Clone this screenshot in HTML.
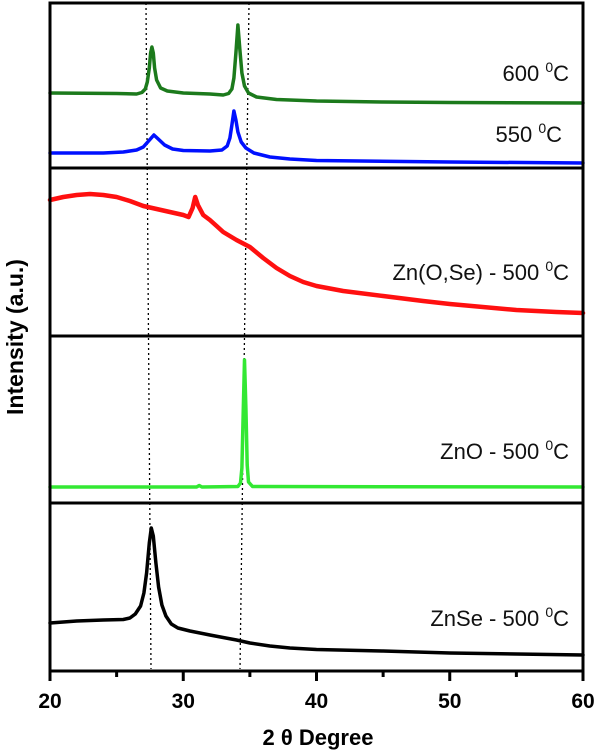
<!DOCTYPE html>
<html><head><meta charset="utf-8"><style>
html,body{margin:0;padding:0;background:#fff;}
svg{display:block;font-family:"Liberation Sans",Arial,sans-serif;}
</style></head><body>
<svg id="chart" width="596" height="755" viewBox="0 0 596 755"></svg>
<script>
const xTicks = [20, 30, 40, 50, 60];
const minorTicks = [25, 35, 45, 55];
const s600 = [[20,75],[25,74.5],[26.5,74],[26.9,75.5],[27.15,79],[27.3,86],[27.45,100],[27.55,115],[27.65,121],[27.75,115],[27.85,100],[28.0,88],[28.3,80],[28.8,77],[30,75],[32,74],[33,73],[33.4,74.5],[33.65,79],[33.8,90],[33.95,115],[34.1,143],[34.25,118],[34.4,95],[34.6,82],[34.9,75],[35.5,71],[37,68.5],[40,67],[45,66],[50,65.5],[60,65]];
const s550 = [[20,15],[24,15],[25.5,16],[26.5,18],[27.0,21],[27.4,27],[27.8,33],[28.2,28],[28.6,23],[29.2,19],[30,17.5],[32,17],[32.9,18],[33.3,22],[33.5,30],[33.65,43],[33.8,57],[33.95,48],[34.1,36],[34.35,26],[34.7,20],[35.3,15],[36.5,11],[38,9],[40,7.5],[50,6],[60,5]];
const sZnOSe = [[20,136],[21,139],[22,141],[23,142],[24,141],[25,139],[26,135],[27,130],[28,127],[29,124],[30,121],[30.4,119],[30.7,128],[30.9,139],[31.1,131],[31.5,121],[32,116],[32.5,110],[33,104],[34,96],[35,89],[36,78],[37,68],[38,60],[39,54],[40,50],[42,45],[45,40],[48,35],[50,32],[55,26],[58,24],[60,23]];
const sZnO = [[20,16],[31,16],[31.2,17.5],[31.4,16],[34.1,16.5],[34.3,20],[34.4,35],[34.5,90],[34.6,143],[34.7,95],[34.8,38],[34.9,21],[35.2,16.5],[60,16]];
const sZnSe = [[20,48],[22,50],[24,51],[25.5,51.5],[26,53],[26.4,57],[26.8,65],[27.05,78],[27.25,98],[27.45,128],[27.6,143],[27.75,135],[27.95,108],[28.15,84],[28.4,66],[28.7,55],[29.1,47],[29.6,43],[30.5,40],[32,36],[34,31],[35,28],[36.5,25],[38,23],[40,21.5],[45,20],[50,18],[55,17],[60,16]];

const NS="http://www.w3.org/2000/svg";
const svg=document.getElementById('chart');
const X0=50,X1=583;
const xs=v=>X0+(v-20)/40*(X1-X0);
const panelBottoms=[168,336,503,671];
function ys(panel,v){return panelBottoms[panel]-v;}
function mk(tag,attrs){const e=document.createElementNS(NS,tag);for(const k in attrs)e.setAttribute(k,attrs[k]);svg.appendChild(e);return e;}

let d1=mk('line',{x1:146,y1:3,x2:151,y2:669,stroke:'#000','stroke-width':1.3,'stroke-dasharray':'2,3'});


let d2=mk('line',{x1:249,y1:3,x2:240,y2:669,stroke:'#000','stroke-width':1.3,'stroke-dasharray':'2,3'});



function series(data,panel,color,name,w){
  const d=data.map((p,i)=>(i?'L':'M')+xs(p[0]).toFixed(1)+','+ys(panel,p[1]).toFixed(1)).join(' ');
  const p=mk('path',{d:d,fill:'none',stroke:color,'stroke-width':w||3.5,'stroke-linejoin':'round','stroke-linecap':'round'});
  
  
}
series(s600,0,'#1c7a1c','series-600c');
series(s550,0,'#0010ff','series-550c');
series(sZnOSe,1,'#ff1010','series-zn-o-se-500c',4.5);
series(sZnO,2,'#33e833','series-zno-500c');
series(sZnSe,3,'#000','series-znse-500c');

let fr=mk('rect',{x:X0,y:3,width:X1-X0,height:671-3,fill:'none',stroke:'#000','stroke-width':3});


[168,336,503].forEach(y=>{
  const l=mk('line',{x1:X0,y1:y,x2:X1,y2:y,stroke:'#000','stroke-width':3});
  
  
});
xTicks.forEach(v=>{
  const t=mk('line',{x1:xs(v),y1:671,x2:xs(v),y2:681,stroke:'#000','stroke-width':3});
  
  
  const tx=mk('text',{x:xs(v),y:708,'text-anchor':'middle','font-size':21,'font-weight':'bold'});
  tx.textContent=v;
  
  
});
minorTicks.forEach(v=>{
  const t=mk('line',{x1:xs(v),y1:671,x2:xs(v),y2:677,stroke:'#000','stroke-width':3});
  
  
});

function label(txt,xEnd,y,name){
  const t=mk('text',{x:xEnd,y:y,'text-anchor':'end','font-size':22,fill:'#111'});
  t.innerHTML=txt+' <tspan dy="-9" font-size="14">0</tspan><tspan dy="9">C</tspan>';
  
  
}
label('600',569,81,'label-600c');
label('550',562,142,'label-550c');
label('Zn(O,Se) - 500',569,280,'label-zn-o-se-500c');
label('ZnO - 500',569,459,'label-zno-500c');
label('ZnSe - 500',569,626,'label-znse-500c');

let xt=mk('text',{x:318,y:745,'text-anchor':'middle','font-size':22,'font-weight':'bold'});
xt.textContent='2 θ Degree';


let yt=mk('text',{x:0,y:0,'text-anchor':'middle','font-size':23,'font-weight':'bold',transform:'translate(23,337) rotate(-90)'});
yt.textContent='Intensity (a.u.)';


</script>
</body></html>
